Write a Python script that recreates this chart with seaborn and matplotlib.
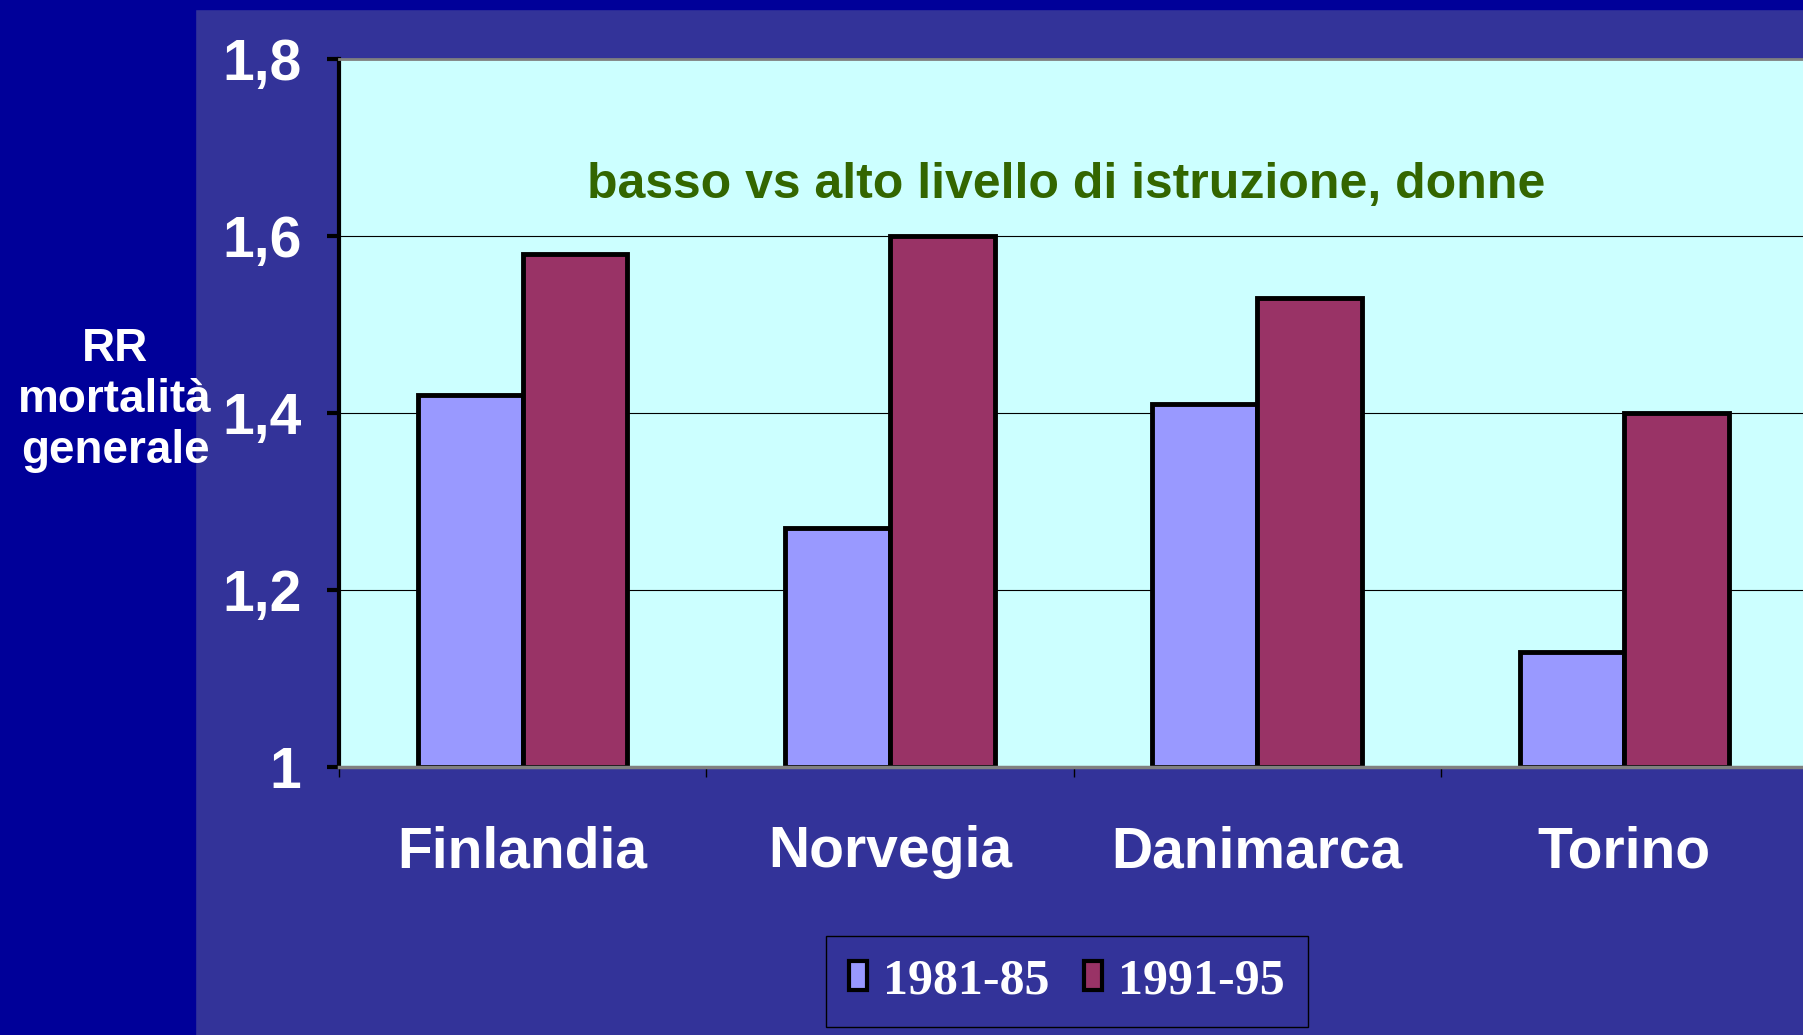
import matplotlib
matplotlib.use("Agg")
import matplotlib.pyplot as plt
import matplotlib.patches as mpatches
import pandas as pd
import seaborn as sns

countries = ["Finlandia", "Norvegia", "Danimarca", "Torino"]
periods = ["1981-85", "1991-95"]
rr_1981_85 = [1.42, 1.27, 1.41, 1.13]
rr_1991_95 = [1.58, 1.60, 1.53, 1.40]
y_ticks = [1.0, 1.2, 1.4, 1.6, 1.8]
y_tick_labels = ["1", "1,2", "1,4", "1,6", "1,8"]
title_text = "basso vs alto livello di istruzione, donne"
y_label = "RR\nmortalità\ngenerale"

slide_bg = "#333399"
strip_bg = "#000099"
plot_bg = "#CCFFFF"
palette = {"1981-85": "#9999FF", "1991-95": "#993366"}

sns.set_style("white")
plt.rcParams["font.family"] = ["Liberation Sans", "DejaVu Sans"]
plt.rcParams["font.weight"] = "bold"

df = pd.DataFrame({
    "paese": countries * 2,
    "periodo": [periods[0]] * len(countries) + [periods[1]] * len(countries),
    "rr": rr_1981_85 + rr_1991_95,
})

W, H = 1803, 1035
fig = plt.figure(figsize=(W / 100, H / 100), dpi=100, facecolor=slide_bg)

# dark strips on the left and top of the slide
fig.patches.append(mpatches.Rectangle((0, 0), 195 / W, 1, transform=fig.transFigure,
                                      color=strip_bg, zorder=-1))
fig.patches.append(mpatches.Rectangle((0, 1 - 9 / H), 1, 9 / H, transform=fig.transFigure,
                                      color=strip_bg, zorder=-1))

ax = fig.add_axes([339 / W, 268 / H, 1469 / W, 708 / H])
ax.set_facecolor(plot_bg)

sns.barplot(data=df, x="paese", y="rr", hue="periodo", order=countries, hue_order=periods,
            palette=palette, saturation=1, width=0.57, edgecolor="black", linewidth=3.5,
            legend=False, ax=ax)

# bars start at the baseline 1, not 0
for bar in ax.patches:
    top = bar.get_y() + bar.get_height()
    bar.set_y(1.0)
    bar.set_height(top - 1.0)

ax.set_xlim(-0.5, len(countries) - 0.5)
ax.set_ylim(1.0, 1.8)
ax.set_yticks(y_ticks, y_tick_labels)
ax.set_xticks(range(len(countries)), countries)
ax.set_xticks([i - 0.5 for i in range(len(countries))], minor=True)
ax.set_xlabel("")
ax.set_ylabel("")

ax.yaxis.grid(True, color="black", linewidth=0.8)
ax.set_axisbelow(True)

ax.tick_params(axis="y", which="major", left=True, length=9, width=3, color="black",
               direction="out", pad=18, labelsize=41, labelcolor="white")
ax.tick_params(axis="x", which="major", bottom=False, length=0, pad=42,
               labelsize=41, labelcolor="white")
ax.tick_params(axis="x", which="minor", bottom=True, length=7, width=1, color="black",
               direction="out")

ax.spines["left"].set_color("black")
ax.spines["left"].set_linewidth(3)
ax.spines["top"].set_color("#808080")
ax.spines["top"].set_linewidth(2)
ax.spines["bottom"].set_color("#808080")
ax.spines["bottom"].set_linewidth(2.5)
ax.spines["right"].set_visible(False)

ax.text(0.495, 0.822, title_text, transform=ax.transAxes, ha="center", va="center",
        color="#336600", fontsize=36, fontweight="bold")

fig.text(115 / W, 1 - 400 / H, y_label, ha="center", va="center", multialignment="center",
         color="white", fontsize=33, fontweight="bold", linespacing=1.22)

handles = [mpatches.Patch(facecolor=palette[p], edgecolor="black", linewidth=3) for p in periods]
leg = fig.legend(handles, periods, loc="center", bbox_to_anchor=(1067 / W, 1 - 981 / H),
                 ncol=2, frameon=True, facecolor=slide_bg, edgecolor="black", fancybox=False,
                 framealpha=1, handlelength=0.36, handleheight=0.5, handletextpad=0.32,
                 columnspacing=0.7, borderpad=0.45, labelcolor="white",
                 prop={"family": "Liberation Serif", "weight": "bold", "size": 36})
leg.get_frame().set_linewidth(1)

fig.savefig("out.png", dpi=100, facecolor=slide_bg)
